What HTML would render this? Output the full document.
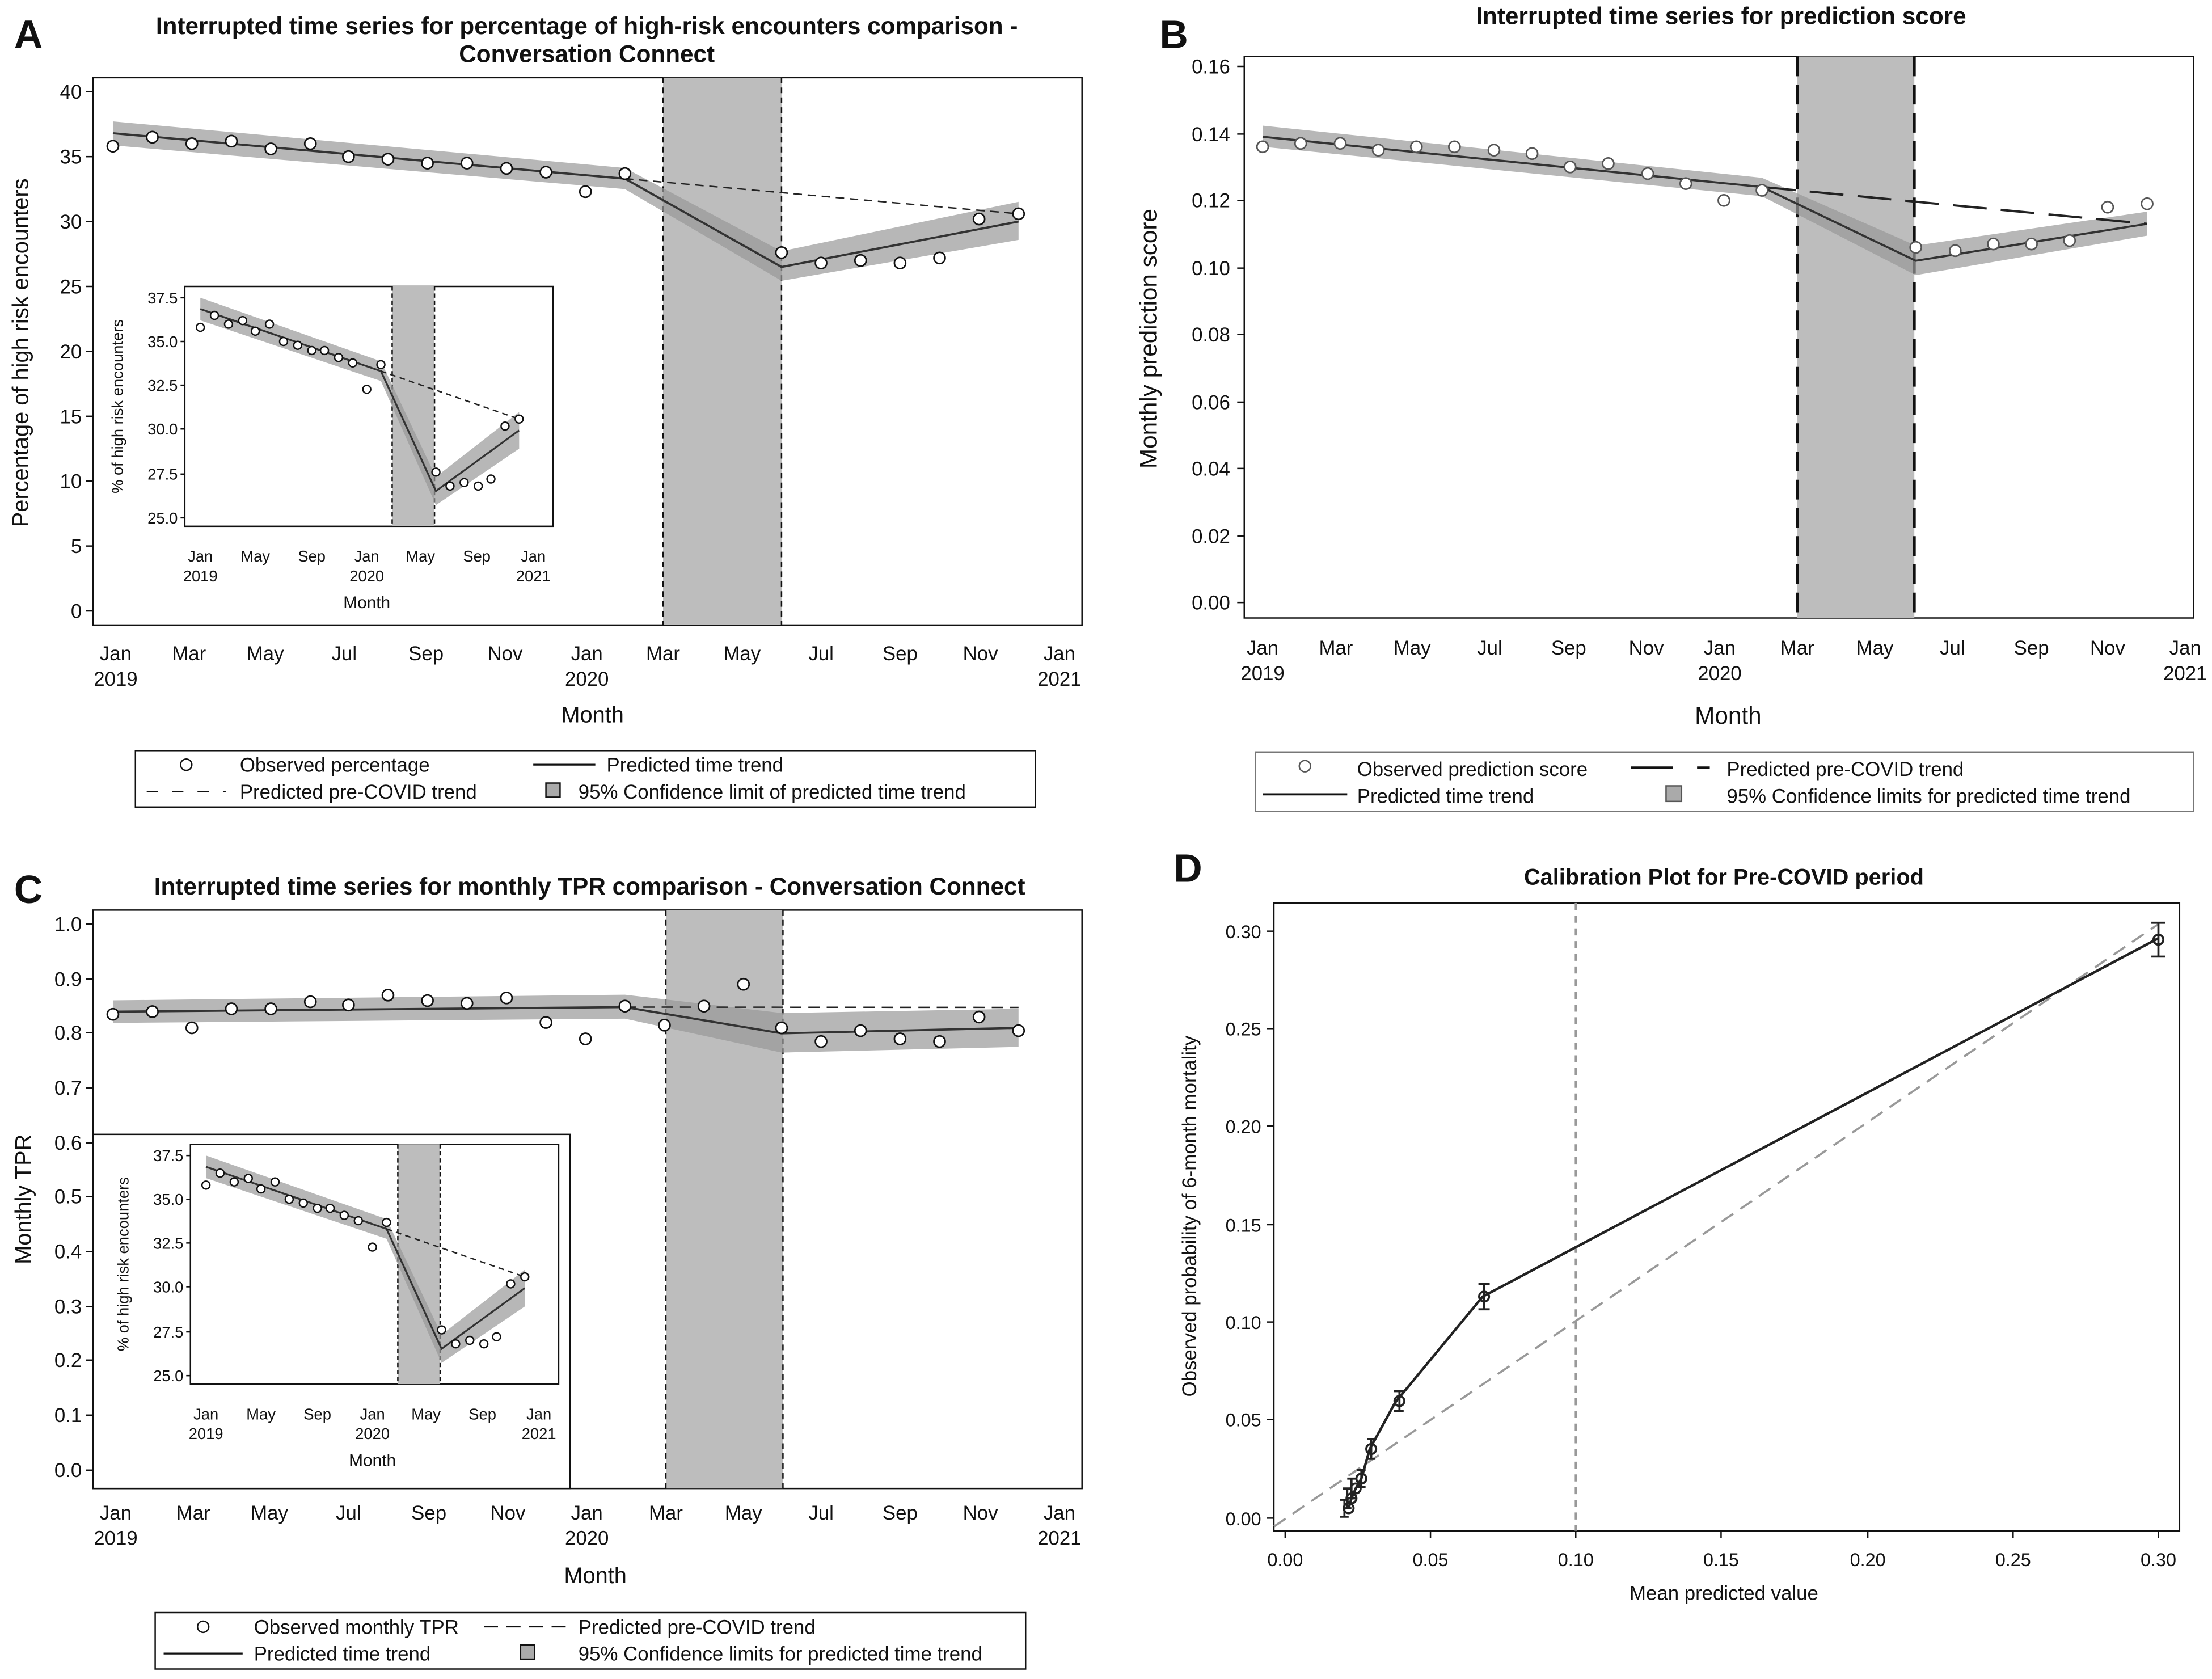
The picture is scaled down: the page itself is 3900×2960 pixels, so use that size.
<!DOCTYPE html>
<html><head><meta charset="utf-8"><style>
html,body{margin:0;padding:0;background:#fff;}
svg{display:block;}
text{font-family:"Liberation Sans",Arial,sans-serif;fill:#111;}
.t{font-size:14px;}
.s{font-size:11px;}
.ttl{font-size:17px;font-weight:bold;}
.lab{font-size:16px;}
.big{font-size:28px;font-weight:bold;}
</style></head><body>
<svg width="3900" height="2960" viewBox="0 0 1568 1190" xmlns="http://www.w3.org/2000/svg">
<rect width="1568" height="1190" fill="#fff"/>
<defs>
<g id="insetA">
  <rect x="131" y="203" width="261" height="170" fill="#fff" stroke="#111" stroke-width="1"/>
  <rect x="278" y="203" width="30" height="170" fill="#bdbdbd"/>
  <line x1="278" y1="203" x2="278" y2="373" stroke="#111" stroke-dasharray="3,2"/>
  <line x1="308" y1="203" x2="308" y2="373" stroke="#111" stroke-dasharray="3,2"/>
  <polygon points="142,211 270,256 309,338 368,292 368,318 309,358 270,270 142,227" fill="#999" opacity="0.7"/>
  <polyline points="142,219 270,263 309,348 368,305" fill="none" stroke="#333" stroke-width="1.3"/>
  <line x1="270" y1="263" x2="368" y2="297" stroke="#222" stroke-dasharray="4,3"/>
  <g fill="#fff" stroke="#111" stroke-width="1">
   <circle cx="142" cy="232" r="2.8"/><circle cx="152" cy="223.5" r="2.8"/><circle cx="162" cy="229.7" r="2.8"/><circle cx="172" cy="227.2" r="2.8"/><circle cx="181" cy="234.7" r="2.8"/><circle cx="191" cy="229.7" r="2.8"/><circle cx="201" cy="242" r="2.8"/><circle cx="211" cy="244.7" r="2.8"/><circle cx="221" cy="248.4" r="2.8"/><circle cx="230" cy="248.4" r="2.8"/><circle cx="240" cy="253.4" r="2.8"/><circle cx="250" cy="257.2" r="2.8"/><circle cx="260" cy="275.9" r="2.8"/><circle cx="270" cy="258.4" r="2.8"/><circle cx="309" cy="334.6" r="2.8"/><circle cx="319" cy="344.5" r="2.8"/><circle cx="329" cy="342" r="2.8"/><circle cx="339" cy="344.5" r="2.8"/><circle cx="348" cy="339.5" r="2.8"/><circle cx="358" cy="302" r="2.8"/><circle cx="368" cy="297" r="2.8"/>
  </g>
  <g class="s" text-anchor="end">
   <text x="126" y="215">37.5</text><text x="126" y="246">35.0</text><text x="126" y="277">32.5</text><text x="126" y="308">30.0</text><text x="126" y="340">27.5</text><text x="126" y="371">25.0</text>
  </g>
  <g stroke="#111"><line x1="128" y1="211" x2="131" y2="211"/><line x1="128" y1="242" x2="131" y2="242"/><line x1="128" y1="273" x2="131" y2="273"/><line x1="128" y1="304" x2="131" y2="304"/><line x1="128" y1="336" x2="131" y2="336"/><line x1="128" y1="367" x2="131" y2="367"/></g>
  <g class="s" text-anchor="middle">
   <text x="142" y="398">Jan</text><text x="142" y="412">2019</text><text x="181" y="398">May</text><text x="221" y="398">Sep</text><text x="260" y="398">Jan</text><text x="260" y="412">2020</text><text x="298" y="398">May</text><text x="338" y="398">Sep</text><text x="378" y="398">Jan</text><text x="378" y="412">2021</text>
   <text x="260" y="431" style="font-size:12px">Month</text>
  </g>
  <text class="s" transform="translate(87,288) rotate(-90)" text-anchor="middle">% of high risk encounters</text>
</g>
</defs>

<!-- Panel A -->
<text class="big" x="10" y="34">A</text>
<text class="ttl" x="416" y="24" text-anchor="middle">Interrupted time series for percentage of high-risk encounters comparison -</text>
<text class="ttl" x="416" y="44" text-anchor="middle">Conversation Connect</text>
<rect x="66" y="55" width="701" height="388" fill="#fff" stroke="#111"/>
<rect x="470" y="55" width="84" height="388" fill="#bdbdbd"/>
<line x1="470" y1="55" x2="470" y2="443" stroke="#111" stroke-dasharray="4,3"/>
<line x1="554" y1="55" x2="554" y2="443" stroke="#111" stroke-dasharray="4,3"/>
<polygon points="80,86 443,119 554,178 722,143 722,170 554,199 443,134 80,103" fill="#999" opacity="0.7"/>
<polyline points="80,94.4 443,126.6 554,189.2 722,157" fill="none" stroke="#333" stroke-width="1.5"/>
<line x1="443" y1="126.6" x2="722" y2="151.5" stroke="#222" stroke-dasharray="6,4"/>
<g fill="#fff" stroke="#111" stroke-width="1.1">
<circle cx="80" cy="103.6" r="4"/><circle cx="108" cy="97.2" r="4"/><circle cx="136" cy="101.8" r="4"/><circle cx="164" cy="100" r="4"/><circle cx="192" cy="105.5" r="4"/><circle cx="220" cy="101.8" r="4"/><circle cx="247" cy="111" r="4"/><circle cx="275" cy="112.8" r="4"/><circle cx="303" cy="115.6" r="4"/><circle cx="331" cy="115.6" r="4"/><circle cx="359" cy="119.3" r="4"/><circle cx="387" cy="122" r="4"/><circle cx="415" cy="135.8" r="4"/><circle cx="443" cy="123" r="4"/><circle cx="554" cy="179" r="4"/><circle cx="582" cy="186.4" r="4"/><circle cx="610" cy="184.6" r="4"/><circle cx="638" cy="186.4" r="4"/><circle cx="666" cy="182.8" r="4"/><circle cx="694" cy="155.2" r="4"/><circle cx="722" cy="151.5" r="4"/>
</g>
<g class="t" text-anchor="end">
<text x="58" y="70">40</text><text x="58" y="116">35</text><text x="58" y="162">30</text><text x="58" y="208">25</text><text x="58" y="254">20</text><text x="58" y="300">15</text><text x="58" y="346">10</text><text x="58" y="392">5</text><text x="58" y="438">0</text>
</g>
<g stroke="#111"><line x1="61" y1="65" x2="66" y2="65"/><line x1="61" y1="111" x2="66" y2="111"/><line x1="61" y1="157" x2="66" y2="157"/><line x1="61" y1="203" x2="66" y2="203"/><line x1="61" y1="249" x2="66" y2="249"/><line x1="61" y1="295" x2="66" y2="295"/><line x1="61" y1="341" x2="66" y2="341"/><line x1="61" y1="387" x2="66" y2="387"/><line x1="61" y1="433" x2="66" y2="433"/></g>
<use href="#insetA"/>
<g class="t" text-anchor="middle">
<text x="82" y="468">Jan</text><text x="82" y="486">2019</text><text x="134" y="468">Mar</text><text x="188" y="468">May</text><text x="244" y="468">Jul</text><text x="302" y="468">Sep</text><text x="358" y="468">Nov</text><text x="416" y="468">Jan</text><text x="416" y="486">2020</text><text x="470" y="468">Mar</text><text x="526" y="468">May</text><text x="582" y="468">Jul</text><text x="638" y="468">Sep</text><text x="695" y="468">Nov</text><text x="751" y="468">Jan</text><text x="751" y="486">2021</text>
<text x="420" y="512" class="lab">Month</text>
</g>
<text class="lab" transform="translate(20,250) rotate(-90)" text-anchor="middle">Percentage of high risk encounters</text>
<rect x="96" y="532" width="638" height="40" fill="#fff" stroke="#111"/>
<circle cx="132" cy="542" r="4" fill="#fff" stroke="#111"/>
<text class="t" x="170" y="547">Observed percentage</text>
<line x1="378" y1="542" x2="422" y2="542" stroke="#111" stroke-width="1.3"/>
<text class="t" x="430" y="547">Predicted time trend</text>
<line x1="104" y1="561" x2="160" y2="561" stroke="#111" stroke-dasharray="8,10"/>
<text class="t" x="170" y="566">Predicted pre-COVID trend</text>
<rect x="387" y="555" width="10" height="10" fill="#aaa" stroke="#111"/>
<text class="t" x="410" y="566">95% Confidence limit of predicted time trend</text>

<!-- Panel B -->
<text class="big" x="822" y="34">B</text>
<text class="ttl" x="1220" y="17" text-anchor="middle">Interrupted time series for prediction score</text>
<rect x="882" y="40" width="673" height="398" fill="#fff" stroke="#111"/>
<rect x="1274" y="40" width="83" height="398" fill="#bdbdbd"/>
<line x1="1274" y1="40" x2="1274" y2="438" stroke="#111" stroke-width="2" stroke-dasharray="14,6"/>
<line x1="1357" y1="40" x2="1357" y2="438" stroke="#111" stroke-width="2" stroke-dasharray="14,6"/>
<polygon points="895,89 1249,126 1358,174 1522,150 1522,167 1358,195 1249,139 895,104" fill="#999" opacity="0.7"/>
<polyline points="895,96.9 1249,132.5 1358,184.8 1522,158.6" fill="none" stroke="#333" stroke-width="1.5"/>
<line x1="1249" y1="132.5" x2="1522" y2="158.6" stroke="#222" stroke-width="1.6" stroke-dasharray="24,10"/>
<g fill="#fff" stroke="#555" stroke-width="1.1">
<circle cx="895" cy="104" r="4"/><circle cx="922" cy="101.6" r="4"/><circle cx="950" cy="101.6" r="4"/><circle cx="977" cy="106.4" r="4"/><circle cx="1004" cy="104" r="4"/><circle cx="1031" cy="104" r="4"/><circle cx="1059" cy="106.4" r="4"/><circle cx="1086" cy="108.8" r="4"/><circle cx="1113" cy="118.3" r="4"/><circle cx="1140" cy="115.9" r="4"/><circle cx="1168" cy="123" r="4"/><circle cx="1195" cy="130.1" r="4"/><circle cx="1222" cy="142" r="4"/><circle cx="1249" cy="134.9" r="4"/><circle cx="1358" cy="175.3" r="4"/><circle cx="1386" cy="177.6" r="4"/><circle cx="1413" cy="172.9" r="4"/><circle cx="1440" cy="172.9" r="4"/><circle cx="1467" cy="170.5" r="4"/><circle cx="1494" cy="146.8" r="4"/><circle cx="1522" cy="144.4" r="4"/>
</g>
<g class="t" text-anchor="end">
<text x="872" y="52">0.16</text><text x="872" y="100">0.14</text><text x="872" y="147">0.12</text><text x="872" y="195">0.10</text><text x="872" y="242">0.08</text><text x="872" y="290">0.06</text><text x="872" y="337">0.04</text><text x="872" y="385">0.02</text><text x="872" y="432">0.00</text>
</g>
<g stroke="#111"><line x1="877" y1="47" x2="882" y2="47"/><line x1="877" y1="95" x2="882" y2="95"/><line x1="877" y1="142" x2="882" y2="142"/><line x1="877" y1="190" x2="882" y2="190"/><line x1="877" y1="237" x2="882" y2="237"/><line x1="877" y1="285" x2="882" y2="285"/><line x1="877" y1="332" x2="882" y2="332"/><line x1="877" y1="380" x2="882" y2="380"/><line x1="877" y1="427" x2="882" y2="427"/></g>
<g class="t" text-anchor="middle">
<text x="895" y="464">Jan</text><text x="895" y="482">2019</text><text x="947" y="464">Mar</text><text x="1001" y="464">May</text><text x="1056" y="464">Jul</text><text x="1112" y="464">Sep</text><text x="1167" y="464">Nov</text><text x="1219" y="464">Jan</text><text x="1219" y="482">2020</text><text x="1274" y="464">Mar</text><text x="1329" y="464">May</text><text x="1384" y="464">Jul</text><text x="1440" y="464">Sep</text><text x="1494" y="464">Nov</text><text x="1549" y="464">Jan</text><text x="1549" y="482">2021</text>
<text x="1225" y="513" style="font-size:17px">Month</text>
</g>
<text transform="translate(820,240) rotate(-90)" text-anchor="middle" style="font-size:17px">Monthly prediction score</text>
<rect x="890" y="533" width="665" height="42" fill="#fff" stroke="#777"/>
<circle cx="925" cy="543" r="4" fill="#fff" stroke="#555"/>
<text class="t" x="962" y="550">Observed prediction score</text>
<line x1="1156" y1="544" x2="1186" y2="544" stroke="#111" stroke-width="1.5"/><line x1="1203" y1="544" x2="1212" y2="544" stroke="#111" stroke-width="1.5"/>
<text class="t" x="1224" y="550">Predicted pre-COVID trend</text>
<line x1="895" y1="563" x2="955" y2="563" stroke="#111" stroke-width="1.5"/>
<text class="t" x="962" y="569">Predicted time trend</text>
<rect x="1181" y="557" width="11" height="11" fill="#aaa" stroke="#555"/>
<text class="t" x="1224" y="569">95% Confidence limits for predicted time trend</text>

<!-- Panel C -->
<text class="big" x="10" y="640">C</text>
<text class="ttl" x="418" y="634" text-anchor="middle">Interrupted time series for monthly TPR comparison - Conversation Connect</text>
<rect x="66" y="645" width="701" height="410" fill="#fff" stroke="#111"/>
<rect x="472" y="645" width="83" height="410" fill="#bdbdbd"/>
<line x1="472" y1="645" x2="472" y2="1055" stroke="#111" stroke-dasharray="4,3"/>
<line x1="555" y1="645" x2="555" y2="1055" stroke="#111" stroke-dasharray="4,3"/>
<polygon points="80,709 443,705 554,718 722,715 722,742 554,746 443,722 80,725" fill="#999" opacity="0.7"/>
<polyline points="80,717 443,713.8 554,732.4 722,728.5" fill="none" stroke="#333" stroke-width="1.5"/>
<line x1="443" y1="713.8" x2="722" y2="714" stroke="#222" stroke-dasharray="8,5"/>
<g fill="#fff" stroke="#111" stroke-width="1.1">
<circle cx="80" cy="718.9" r="4"/><circle cx="108" cy="717" r="4"/><circle cx="136" cy="728.5" r="4"/><circle cx="164" cy="715" r="4"/><circle cx="192" cy="715" r="4"/><circle cx="220" cy="710" r="4"/><circle cx="247" cy="712.3" r="4"/><circle cx="275" cy="705.3" r="4"/><circle cx="303" cy="709.2" r="4"/><circle cx="331" cy="711.1" r="4"/><circle cx="359" cy="707.3" r="4"/><circle cx="387" cy="724.7" r="4"/><circle cx="415" cy="736.3" r="4"/><circle cx="443" cy="713.1" r="4"/><circle cx="471" cy="726.6" r="4"/><circle cx="499" cy="713.1" r="4"/><circle cx="527" cy="697.6" r="4"/><circle cx="554" cy="728.5" r="4"/><circle cx="582" cy="738.2" r="4"/><circle cx="610" cy="730.5" r="4"/><circle cx="638" cy="736.3" r="4"/><circle cx="666" cy="738.2" r="4"/><circle cx="694" cy="720.8" r="4"/><circle cx="722" cy="730.5" r="4"/>
</g>
<g class="t" text-anchor="end">
<text x="58" y="660">1.0</text><text x="58" y="699">0.9</text><text x="58" y="737">0.8</text><text x="58" y="776">0.7</text><text x="58" y="815">0.6</text><text x="58" y="853">0.5</text><text x="58" y="892">0.4</text><text x="58" y="931">0.3</text><text x="58" y="969">0.2</text><text x="58" y="1008">0.1</text><text x="58" y="1047">0.0</text>
</g>
<g stroke="#111"><line x1="61" y1="655" x2="66" y2="655"/><line x1="61" y1="694" x2="66" y2="694"/><line x1="61" y1="732" x2="66" y2="732"/><line x1="61" y1="771" x2="66" y2="771"/><line x1="61" y1="810" x2="66" y2="810"/><line x1="61" y1="848" x2="66" y2="848"/><line x1="61" y1="887" x2="66" y2="887"/><line x1="61" y1="926" x2="66" y2="926"/><line x1="61" y1="964" x2="66" y2="964"/><line x1="61" y1="1003" x2="66" y2="1003"/><line x1="61" y1="1042" x2="66" y2="1042"/></g>
<rect x="66" y="804" width="338" height="251" fill="#fff" stroke="#111"/>
<use href="#insetA" transform="translate(4,608)"/>
<g class="t" text-anchor="middle">
<text x="82" y="1077">Jan</text><text x="82" y="1095">2019</text><text x="137" y="1077">Mar</text><text x="191" y="1077">May</text><text x="247" y="1077">Jul</text><text x="304" y="1077">Sep</text><text x="360" y="1077">Nov</text><text x="416" y="1077">Jan</text><text x="416" y="1095">2020</text><text x="472" y="1077">Mar</text><text x="527" y="1077">May</text><text x="582" y="1077">Jul</text><text x="638" y="1077">Sep</text><text x="695" y="1077">Nov</text><text x="751" y="1077">Jan</text><text x="751" y="1095">2021</text>
<text x="422" y="1122" class="lab">Month</text>
</g>
<text class="lab" transform="translate(22,850) rotate(-90)" text-anchor="middle">Monthly TPR</text>
<rect x="110" y="1143" width="617" height="40" fill="#fff" stroke="#111"/>
<circle cx="144" cy="1153" r="4" fill="#fff" stroke="#111"/>
<text class="t" x="180" y="1158">Observed monthly TPR</text>
<line x1="343" y1="1153" x2="405" y2="1153" stroke="#111" stroke-dasharray="10,6"/>
<text class="t" x="410" y="1158">Predicted pre-COVID trend</text>
<line x1="116" y1="1172" x2="172" y2="1172" stroke="#111" stroke-width="1.3"/>
<text class="t" x="180" y="1177">Predicted time trend</text>
<rect x="369" y="1166" width="10" height="10" fill="#aaa" stroke="#111"/>
<text class="t" x="410" y="1177">95% Confidence limits for predicted time trend</text>

<!-- Panel D -->
<text class="big" x="832" y="625">D</text>
<text class="ttl" x="1222" y="627" text-anchor="middle" style="font-size:16px">Calibration Plot for Pre-COVID period</text>
<rect x="903" y="640" width="642" height="445" fill="#fff" stroke="#111"/>
<line x1="1117" y1="640" x2="1117" y2="1085" stroke="#999" stroke-width="1.5" stroke-dasharray="5,4"/>
<line x1="903" y1="1082" x2="1530" y2="655" stroke="#999" stroke-width="1.5" stroke-dasharray="10,6"/>
<polyline points="956,1069 958,1062 961,1055 965,1048 971,1027 989,994 1051,919 1530,665" fill="none" stroke="#222" stroke-width="1.8"/>
<g stroke="#222" stroke-width="1.5" fill="none">
<path d="M953,1063v12M950,1063h6M950,1075h6"/><path d="M955,1055v14M952,1055h6M952,1069h6"/><path d="M958,1048v14M955,1048h6M955,1062h6"/><path d="M965,1042v12M962,1042h6M962,1054h6"/><path d="M972,1020v14M969,1020h6M969,1034h6"/><path d="M992,986v14M988,986h7M988,1000h7"/><path d="M1052,910v18M1048,910h8M1048,928h8"/><path d="M1530,654v24M1525,654h10M1525,678h10"/>
<circle cx="956" cy="1069" r="3.5"/><circle cx="958" cy="1062" r="3.5"/><circle cx="961" cy="1055" r="3.5"/><circle cx="965" cy="1048" r="3.5"/><circle cx="972" cy="1027" r="3.5"/><circle cx="992" cy="993" r="3.5"/><circle cx="1052" cy="919" r="3.5"/><circle cx="1530" cy="666" r="3.5"/>
</g>
<g class="t" text-anchor="end" style="font-size:13px">
<text x="894" y="665">0.30</text><text x="894" y="734">0.25</text><text x="894" y="803">0.20</text><text x="894" y="873">0.15</text><text x="894" y="942">0.10</text><text x="894" y="1011">0.05</text><text x="894" y="1081">0.00</text>
</g>
<g stroke="#111"><line x1="898" y1="660" x2="903" y2="660"/><line x1="898" y1="729" x2="903" y2="729"/><line x1="898" y1="798" x2="903" y2="798"/><line x1="898" y1="868" x2="903" y2="868"/><line x1="898" y1="937" x2="903" y2="937"/><line x1="898" y1="1006" x2="903" y2="1006"/><line x1="898" y1="1076" x2="903" y2="1076"/></g>
<g class="t" text-anchor="middle" style="font-size:13px">
<text x="911" y="1110">0.00</text><text x="1014" y="1110">0.05</text><text x="1117" y="1110">0.10</text><text x="1220" y="1110">0.15</text><text x="1324" y="1110">0.20</text><text x="1427" y="1110">0.25</text><text x="1530" y="1110">0.30</text>
<text x="1222" y="1134" style="font-size:14px">Mean predicted value</text>
</g>
<g stroke="#111"><line x1="911" y1="1085" x2="911" y2="1090"/><line x1="1014" y1="1085" x2="1014" y2="1090"/><line x1="1117" y1="1085" x2="1117" y2="1090"/><line x1="1220" y1="1085" x2="1220" y2="1090"/><line x1="1324" y1="1085" x2="1324" y2="1090"/><line x1="1427" y1="1085" x2="1427" y2="1090"/><line x1="1530" y1="1085" x2="1530" y2="1090"/></g>
<text transform="translate(848,862) rotate(-90)" text-anchor="middle" style="font-size:14px">Observed probability of 6-month mortality</text>
</svg>
</body></html>
